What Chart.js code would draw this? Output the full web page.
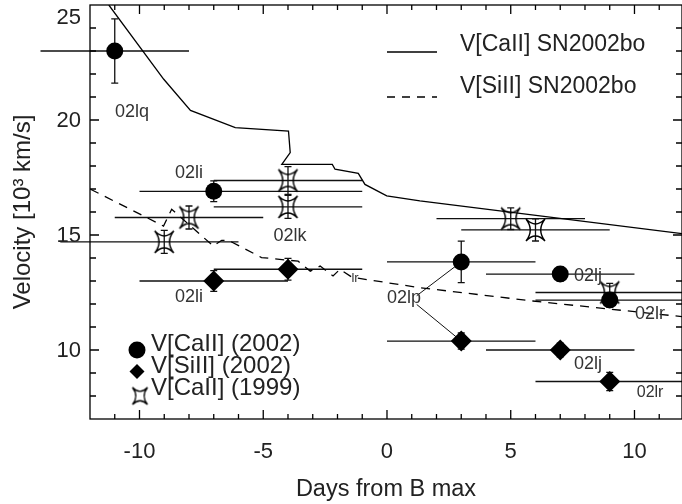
<!DOCTYPE html>
<html>
<head>
<meta charset="utf-8">
<script src="https://cdn.jsdelivr.net/npm/chart.js@4.4.1/dist/chart.umd.min.js"></script>
<style>
  html, body { margin: 0; background: #fff; }
</style>
</head>
<body>
<canvas id="c" width="682" height="504"></canvas>
<script>
// SN2002bo model curves (days from B max, velocity in 10^3 km/s)
const caBoDays = [-11.24, -9.02, -7.94, -6.13, -3.98, -3.91, -4.25, -2.21, -2.10, -1.16, -0.89, -0.01, 1.33, 11.92];
const caBoVel  = [25.0, 21.77, 20.42, 19.67, 19.52, 18.58, 18.07, 18.07, 17.86, 17.68, 17.20, 16.70, 16.48, 15.06];
const siBoDays = [-11.98, -9.03, -8.70, -7.02, -6.68, -6.41, -5.07, -3.59, -3.10, -2.70, -2.18, -1.90, -1.41, 1.33, 5.89, 11.92];
const siBoVel  = [16.99, 15.39, 16.12, 14.52, 14.77, 14.77, 14.02, 13.86, 13.43, 13.65, 13.22, 13.51, 13.16, 12.71, 12.13, 11.45];

// V[CaII] 2002
const caDays   = [-11, -7, 3, 7, 9];
const caVel    = [23.0, 16.9, 13.83, 13.3, 12.17];
const caErr    = [1.4, 0.45, 0.9, 0.3, 0.3];
const caDayLo  = [-14, -10, 0, 4, 6];
const caDayHi  = [-8, -1, 6, 10, 13];

// V[SiII] 2002
const siDays   = [-7, -4, 3, 7, 9];
const siVel    = [13.0, 13.51, 10.39, 10.0, 8.63];
const siErr    = [0.45, 0.47, 0.35, 0.3, 0.4];
const siDayLo  = [-10, -7, 0, 4, 6];
const siDayHi  = [-4, -1, 6, 10, 13];

// V[CaII] 1999
const ca99Days  = [-9, -8, -4, -4, 5, 6, 9];
const ca99Vel   = [14.7, 15.76, 17.37, 16.22, 15.71, 15.22, 12.5];
const ca99Err   = [0.5, 0.5, 0.6, 0.5, 0.47, 0.48, 0.4];
const ca99DayLo = [-13.2, -11, -7, -7, 2, 3, 6];
const ca99DayHi = [-6, -5, -1, -1, 8, 9, 13];

// object labels
const lblText = ['02lq', '02li', '02li', '02lk', 'lr', '02lp', '02lj', '02lr', '02lj', '02lr'];
const lblDay  = [-10.3, -8.0, -8.0, -3.92, -1.29, 0.69, 8.12, 10.63, 8.12, 10.63];
const lblVel  = [20.33, 17.68, 12.29, 14.94, 13.12, 12.25, 13.2, 11.55, 9.38, 8.16];
const lblSize = [18, 18, 18, 18, 13, 18, 18, 18, 18, 16];

const FONT = '"Liberation Sans", Arial, Helvetica, sans-serif';

// 4-point star with its tips on the diagonals and hollow inside
function starCanvas(w, h) {
  const cv = document.createElement('canvas');
  cv.width = Math.ceil(w * 2 + 4); cv.height = Math.ceil(h * 2 + 4);
  const g = cv.getContext('2d');
  g.translate(cv.width / 2, cv.height / 2);
  g.beginPath();
  g.moveTo(-w, -h);
  g.quadraticCurveTo(0, -h * 0.1, w, -h);
  g.quadraticCurveTo(w * 0.1, 0, w, h);
  g.quadraticCurveTo(0, h * 0.1, -w, h);
  g.quadraticCurveTo(-w * 0.1, 0, -w, -h);
  g.closePath();
  g.lineWidth = 1.4;
  g.strokeStyle = '#000';
  g.stroke();
  return cv;
}
const star = starCanvas(9.5, 11);
const starSmall = starCanvas(7.5, 8.5);

const pts = (xs, ys) => xs.map((x, i) => ({ x: x, y: ys[i] }));

const errorBars = {
  id: 'errorBars',
  beforeDatasetsDraw(chart) {
    const ctx = chart.ctx, xs = chart.scales.x, ys = chart.scales.y;
    const groups = [
      [caDays, caVel, caErr, caDayLo, caDayHi],
      [siDays, siVel, siErr, siDayLo, siDayHi],
      [ca99Days, ca99Vel, ca99Err, ca99DayLo, ca99DayHi]
    ];
    ctx.save();
    ctx.strokeStyle = '#111';
    ctx.lineWidth = 1.3;
    groups.forEach(([d, v, e, lo, hi]) => {
      d.forEach((day, i) => {
        const py = ys.getPixelForValue(v[i]);
        const px = xs.getPixelForValue(day);
        ctx.beginPath();
        ctx.moveTo(xs.getPixelForValue(lo[i]), py);
        ctx.lineTo(xs.getPixelForValue(hi[i]), py);
        const t = ys.getPixelForValue(v[i] + e[i]), b = ys.getPixelForValue(v[i] - e[i]);
        ctx.moveTo(px, t); ctx.lineTo(px, b);
        ctx.moveTo(px - 3.5, t); ctx.lineTo(px + 3.5, t);
        ctx.moveTo(px - 3.5, b); ctx.lineTo(px + 3.5, b);
        ctx.stroke();
      });
    });
    // leader lines from the 02lp label
    ctx.lineWidth = 1;
    ctx.beginPath();
    ctx.moveTo(xs.getPixelForValue(1.2), ys.getPixelForValue(12.36));
    ctx.lineTo(xs.getPixelForValue(caDays[2]), ys.getPixelForValue(caVel[2]));
    ctx.moveTo(xs.getPixelForValue(1.2), ys.getPixelForValue(11.98));
    ctx.lineTo(xs.getPixelForValue(siDays[2]), ys.getPixelForValue(siVel[2]));
    ctx.stroke();
    ctx.restore();
  }
};

const frame = {
  id: 'frame',
  afterDraw(chart) {
    const ctx = chart.ctx, a = chart.chartArea, xs = chart.scales.x, ys = chart.scales.y;
    ctx.save();
    ctx.strokeStyle = '#000';
    ctx.lineWidth = 1.3;
    ctx.strokeRect(a.left, a.top, a.right - a.left, a.bottom - a.top);
    ctx.beginPath();
    for (let d = -12; d <= 12; d++) {
      const px = xs.getPixelForValue(d);
      if (px <= a.left || px >= a.right) continue;
      const len = d % 5 === 0 ? 9 : 5;
      ctx.moveTo(px, a.bottom); ctx.lineTo(px, a.bottom - len);
      ctx.moveTo(px, a.top); ctx.lineTo(px, a.top + len);
    }
    for (let v = 7; v <= 25; v++) {
      const py = ys.getPixelForValue(v);
      if (py <= a.top || py >= a.bottom) continue;
      const len = v % 5 === 0 ? 9 : 6;
      ctx.moveTo(a.left, py); ctx.lineTo(a.left + len, py);
      ctx.moveTo(a.right, py); ctx.lineTo(a.right - len, py);
    }
    ctx.stroke();

    ctx.fillStyle = '#222';
    ctx.font = '22px ' + FONT;
    ctx.textAlign = 'center';
    ctx.textBaseline = 'middle';
    [-10, -5, 0, 5, 10].forEach(d => ctx.fillText(String(d), xs.getPixelForValue(d), 452));
    ctx.textAlign = 'right';
    [10, 15, 20, 25].forEach(v => ctx.fillText(String(v), 81, Math.max(ys.getPixelForValue(v) + 1, 18)));

    ctx.font = '23.5px ' + FONT;
    ctx.textAlign = 'center';
    ctx.fillText('Days from B max', (a.left + a.right) / 2, 490);
    ctx.save();
    ctx.font = '24px ' + FONT;
    ctx.translate(23, (a.top + a.bottom) / 2);
    ctx.rotate(-Math.PI / 2);
    ctx.fillText('Velocity [10\u00B3 km/s]', 0, 0);
    ctx.restore();

    // object labels
    ctx.fillStyle = '#333';
    lblText.forEach((t, i) => {
      ctx.font = lblSize[i] + 'px ' + FONT;
      ctx.fillText(t, xs.getPixelForValue(lblDay[i]), ys.getPixelForValue(lblVel[i]));
    });

    // legend, top right
    ctx.fillStyle = '#222';
    ctx.font = '23px ' + FONT;
    ctx.textAlign = 'left';
    ctx.fillText('V[CaII] SN2002bo', 460, 45);
    ctx.fillText('V[SiII] SN2002bo', 460, 87);
    ctx.lineWidth = 1.3;
    ctx.beginPath(); ctx.moveTo(387, 52); ctx.lineTo(437, 52); ctx.stroke();
    ctx.setLineDash([8, 7]);
    ctx.beginPath(); ctx.moveTo(387, 97); ctx.lineTo(437, 97); ctx.stroke();
    ctx.setLineDash([]);

    // legend, bottom left
    ctx.font = '24px ' + FONT;
    ctx.fillText('V[CaII] (2002)', 151, 344);
    ctx.fillText('V[SiII] (2002)', 151, 366);
    ctx.fillText('V[CaII] (1999)', 151, 388);
    ctx.fillStyle = '#000';
    ctx.beginPath(); ctx.arc(137, 350, 8.5, 0, Math.PI * 2); ctx.fill();
    ctx.beginPath();
    ctx.moveTo(137, 364); ctx.lineTo(144.5, 371.5); ctx.lineTo(137, 379); ctx.lineTo(129.5, 371.5);
    ctx.closePath(); ctx.fill();
    ctx.drawImage(starSmall, 140 - starSmall.width / 2, 396 - starSmall.height / 2);
    ctx.restore();
  }
};

new Chart(document.getElementById('c'), {
  type: 'scatter',
  data: {
    datasets: [
      {
        label: 'V[CaII] SN2002bo',
        data: pts(caBoDays, caBoVel),
        showLine: true, borderColor: '#000', borderWidth: 1.3, pointRadius: 0
      },
      {
        label: 'V[SiII] SN2002bo',
        data: pts(siBoDays, siBoVel),
        showLine: true, borderColor: '#000', borderWidth: 1.3, borderDash: [9, 7], pointRadius: 0
      },
      {
        label: 'V[CaII] (1999)',
        data: pts(ca99Days, ca99Vel),
        pointStyle: star, pointRadius: 11, clip: false
      },
      {
        label: 'V[CaII] (2002)',
        data: pts(caDays, caVel),
        pointStyle: 'circle', pointRadius: 8.5, backgroundColor: '#000', borderColor: '#000', borderWidth: 0, clip: false
      },
      {
        label: 'V[SiII] (2002)',
        data: pts(siDays, siVel),
        pointStyle: 'rectRot', pointRadius: 10.5, backgroundColor: '#000', borderColor: '#000', borderWidth: 0, clip: false
      }
    ]
  },
  options: {
    responsive: false,
    animation: false,
    devicePixelRatio: 1,
    layout: { autoPadding: false, padding: { left: 90, right: 0, top: 5, bottom: 85 } },
    scales: {
      x: { type: 'linear', min: -12, max: 11.92, display: false },
      y: { type: 'linear', min: 7, max: 25, display: false }
    },
    plugins: { legend: { display: false }, tooltip: { enabled: false } }
  },
  plugins: [errorBars, frame]
});
</script>
</body>
</html>
